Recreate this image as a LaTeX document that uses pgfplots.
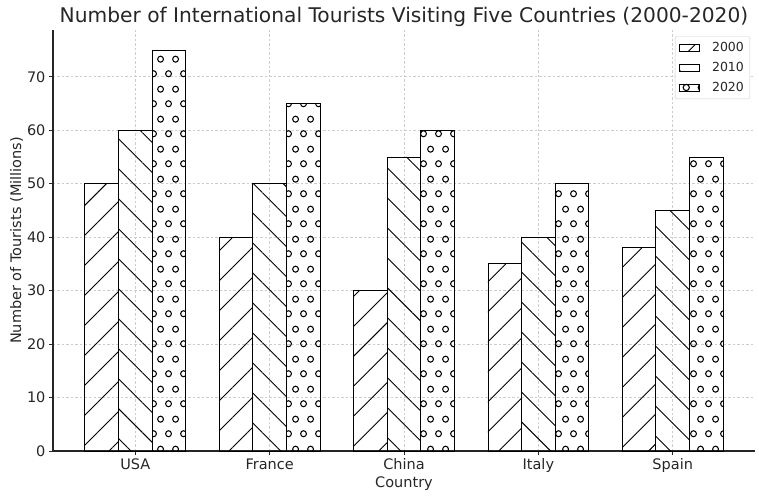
\documentclass[border=0pt]{standalone}
\usepackage{pgfplots}
\pgfplotsset{compat=1.18}
\usepackage{fontspec}
\setmainfont{DejaVu Sans}
\usetikzlibrary{patterns.meta}

\tikzdeclarepattern{
  name=rings,
  type=uncolored,
  bottom left={(0pt,0pt)},
  top right={(15pt,30pt)},
  tile size={(15pt,30pt)},
  code={
    \draw[line width=1.1pt] (3.75pt,7.5pt) circle [radius=3.1pt];
    \draw[line width=1.1pt] (11.25pt,22.5pt) circle [radius=3.1pt];
  }
}

\pgfplotstableread{
x y2000 y2010 y2020
0 50 60 75
1 40 50 65
2 30 55 60
3 35 40 50
4 38 45 55
}\datatable

\begin{document}
\begin{tikzpicture}
\begin{axis}[
  at={(0pt,0pt)}, anchor=south west,
  scale only axis, width=702pt, height=421pt,
  xmin=-0.6125, xmax=4.6125, ymin=0, ymax=78.75,
  ybar=0pt, bar width=33.6pt,
  axis x line*=bottom, axis y line*=left,
  axis line style={line width=1.1pt, black!85},
  xtick={0,1,2,3,4}, xticklabels={USA,France,China,Italy,Spain},
  ytick={0,10,...,70},
  tick align=outside, major tick length=4pt,
  tick style={line width=0.9pt, black!85},
  ticklabel style={font=\fontsize{14.5}{17}\selectfont, text=black!85},
  /pgf/number format/assume math mode=true,
  grid=major, grid style={dash pattern=on 2.5pt off 2pt, black!20, line width=0.6pt},
  title={Number of International Tourists Visiting Five Countries (2000-2020)},
  title style={font=\fontsize{20.2}{23}\selectfont, text=black!85, yshift=-6pt},
  xlabel={Country}, ylabel={Number of Tourists (Millions)},
  label style={font=\fontsize{14.5}{17}\selectfont, text=black!85},
  xlabel style={yshift=3pt},
  ylabel style={yshift=-3pt},
  legend style={at={(0.993,0.985)}, anchor=north east,
    font=\fontsize{12.5}{15}\selectfont, text=black!85, draw=black!20,
    rounded corners=2pt, inner xsep=4pt, inner ysep=4pt,
    row sep=5pt,
    /tikz/every odd column/.append style={column sep=10pt}},
  legend cell align=left,
  legend image code/.code={\draw[#1, sharp corners] (0pt,-3.5pt) rectangle (20pt,3.5pt);},
]
\addplot[draw=black, line width=0.9pt, pattern={Lines[angle=45,distance=21.2pt,line width=0.9pt]}] table[x=x,y=y2000] {\datatable};
\addplot[draw=black, line width=0.9pt, pattern={Lines[angle=-45,distance=21.2pt,line width=0.9pt]}] table[x=x,y=y2010] {\datatable};
\addplot[draw=black, line width=0.9pt, pattern=rings] table[x=x,y=y2020] {\datatable};
\legend{2000,2010,2020}
\end{axis}
\pgfresetboundingbox
\path[use as bounding box] (-53pt,-49pt) rectangle (706pt,451pt);
\end{tikzpicture}
\end{document}
